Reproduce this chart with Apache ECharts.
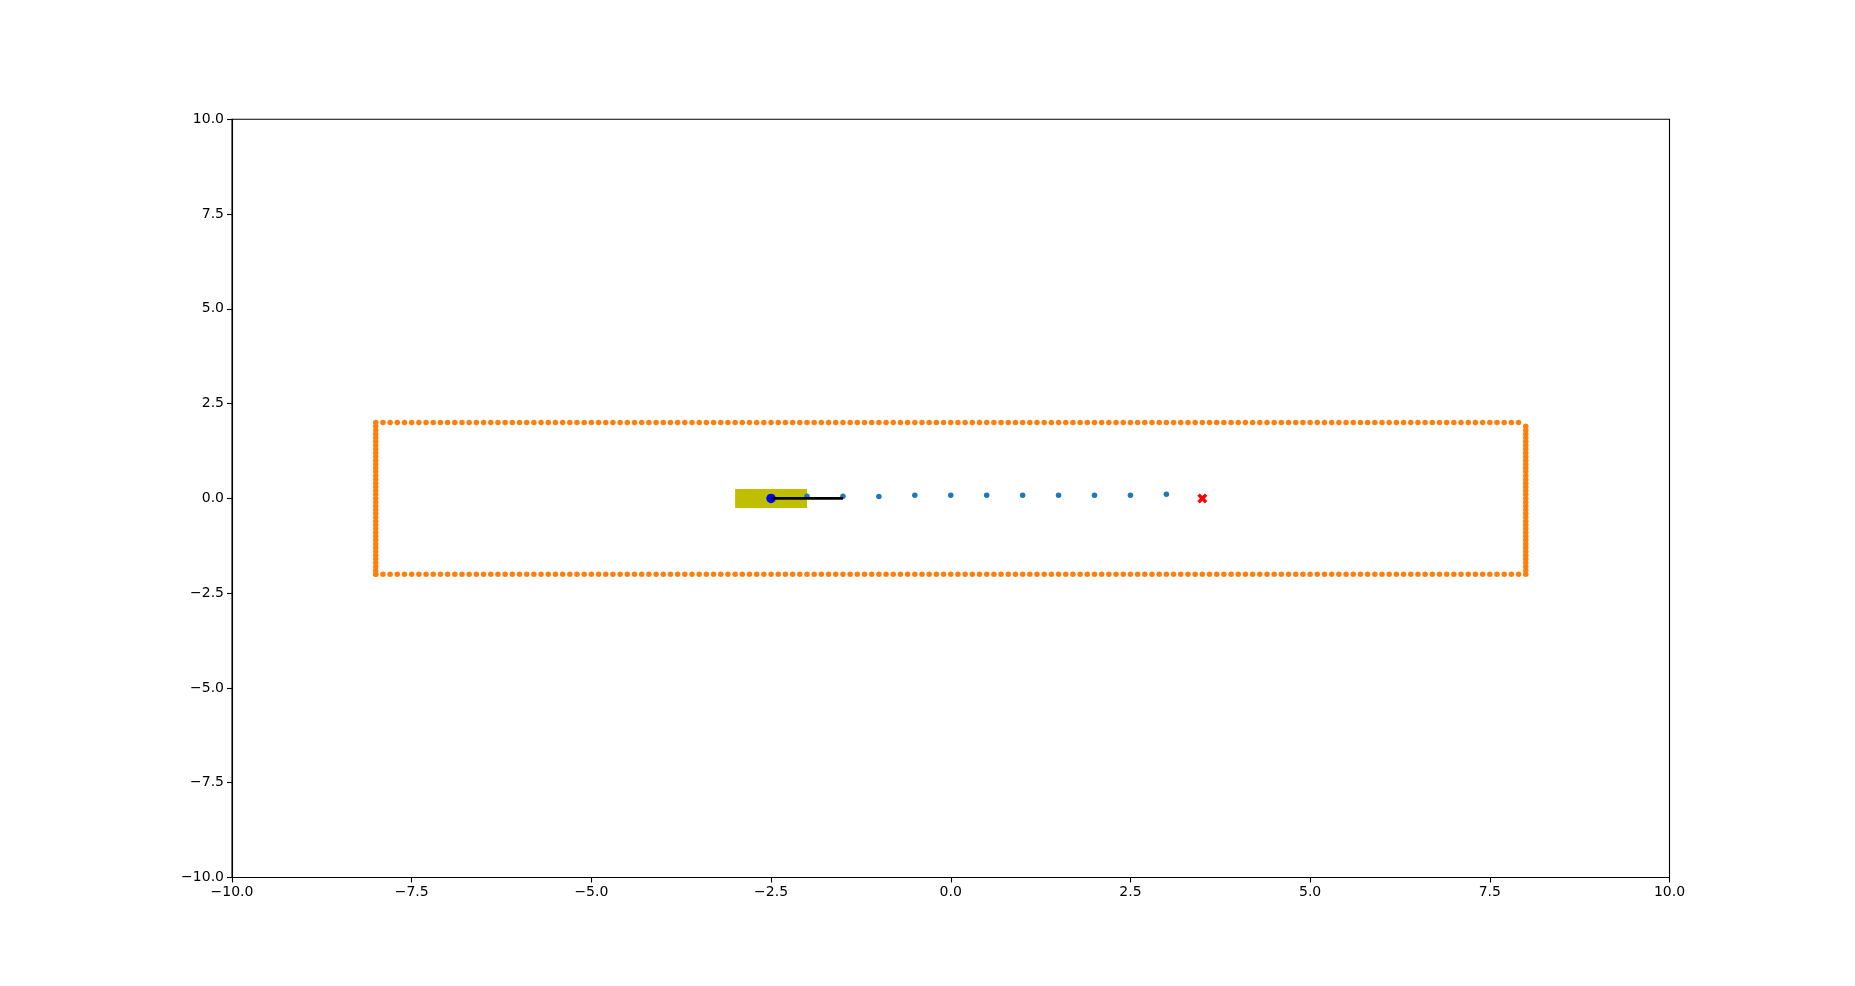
<!DOCTYPE html>
<html>
<head>
<meta charset="utf-8">
<script src="https://cdn.jsdelivr.net/npm/echarts@6/dist/echarts.min.js"></script>
<style>
html,body{margin:0;padding:0;background:#fff;}
#chart{width:1855px;height:986px;}
</style>
</head>
<body>
<div id="chart"></div>
<script>
// ---- data ----
var axisTicks = [-10, -7.5, -5, -2.5, 0, 2.5, 5, 7.5, 10];

// corridor walls (orange points)
var wallRowX = [
  -8.0,-7.9,-7.8,-7.7,-7.6,-7.5,-7.4,-7.3,-7.2,-7.1,
  -7.0,-6.9,-6.8,-6.7,-6.6,-6.5,-6.4,-6.3,-6.2,-6.1,
  -6.0,-5.9,-5.8,-5.7,-5.6,-5.5,-5.4,-5.3,-5.2,-5.1,
  -5.0,-4.9,-4.8,-4.7,-4.6,-4.5,-4.4,-4.3,-4.2,-4.1,
  -4.0,-3.9,-3.8,-3.7,-3.6,-3.5,-3.4,-3.3,-3.2,-3.1,
  -3.0,-2.9,-2.8,-2.7,-2.6,-2.5,-2.4,-2.3,-2.2,-2.1,
  -2.0,-1.9,-1.8,-1.7,-1.6,-1.5,-1.4,-1.3,-1.2,-1.1,
  -1.0,-0.9,-0.8,-0.7,-0.6,-0.5,-0.4,-0.3,-0.2,-0.1,
  0.0,0.1,0.2,0.3,0.4,0.5,0.6,0.7,0.8,0.9,
  1.0,1.1,1.2,1.3,1.4,1.5,1.6,1.7,1.8,1.9,
  2.0,2.1,2.2,2.3,2.4,2.5,2.6,2.7,2.8,2.9,
  3.0,3.1,3.2,3.3,3.4,3.5,3.6,3.7,3.8,3.9,
  4.0,4.1,4.2,4.3,4.4,4.5,4.6,4.7,4.8,4.9,
  5.0,5.1,5.2,5.3,5.4,5.5,5.6,5.7,5.8,5.9,
  6.0,6.1,6.2,6.3,6.4,6.5,6.6,6.7,6.8,6.9,
  7.0,7.1,7.2,7.3,7.4,7.5,7.6,7.7,7.8,7.9
];
var wallTopY = 2;
var wallBottomY = -2;
var wallColumnY = [
  -2.0,-1.9,-1.8,-1.7,-1.6,-1.5,-1.4,-1.3,-1.2,-1.1,
  -1.0,-0.9,-0.8,-0.7,-0.6,-0.5,-0.4,-0.3,-0.2,-0.1,
  0.0,0.1,0.2,0.3,0.4,0.5,0.6,0.7,0.8,0.9,
  1.0,1.1,1.2,1.3,1.4,1.5,1.6,1.7,1.8,1.9
];
var wallLeftX = -8;
var wallRightX = 8;

// planned path (blue points)
var pathX = [-2.0, -1.5, -1.0, -0.5, 0.0, 0.5, 1.0, 1.5, 2.0, 2.5, 3.0];
var pathY = [0.06, 0.06, 0.05, 0.08, 0.08, 0.08, 0.08, 0.08, 0.08, 0.08, 0.11];

// vehicle body (rectangle corners), position and heading segment
var bodyMin = [-3.0, -0.25];
var bodyMax = [-2.0, 0.25];
var vehiclePos = [-2.5, 0.0];
var headingEnd = [-1.5, 0.0];

// goal
var goal = [3.5, 0.0];

// ---- build ----
var walls = [];
wallRowX.forEach(function(x){ walls.push([x, wallTopY]); });
wallRowX.forEach(function(x){ walls.push([x, wallBottomY]); });
wallColumnY.forEach(function(y){ walls.push([wallLeftX, y]); });
wallColumnY.forEach(function(y){ walls.push([wallRightX, y]); });
var path = pathX.map(function(x, i){ return [x, pathY[i]]; });

function fmt(v){
  return (v < 0 ? '\u2212' : '') + Math.abs(v).toFixed(1);
}

var axisCommon = {
  type: 'value', min: -10, max: 10, interval: 2.5,
  axisLine: { show: true, onZero: false, lineStyle: { color: '#000', width: 1.1 } },
  axisTick: { show: true, length: 5, lineStyle: { color: '#000', width: 1.1 } },
  splitLine: { show: false },
  axisLabel: { color: '#000', fontFamily: 'DejaVu Sans', fontSize: 14, formatter: fmt, margin: 8 }
};

var chart = echarts.init(document.getElementById('chart'), null, { renderer: 'canvas' });
chart.setOption({
  animation: false,
  backgroundColor: '#fff',
  grid: { left: 232, right: 185.5, top: 119.3, bottom: 108.5, show: true, borderColor: '#000', borderWidth: 1.1, backgroundColor: 'transparent' },
  xAxis: Object.assign({}, axisCommon, { position: 'bottom' }),
  yAxis: Object.assign({}, axisCommon, { position: 'left' }),
  series: [
    {
      type: 'custom', z: 1,
      renderItem: function(params, api){
        var p1 = api.coord([api.value(0), api.value(1)]);
        var p2 = api.coord([api.value(2), api.value(3)]);
        return {
          type: 'rect',
          shape: { x: Math.min(p1[0], p2[0]), y: Math.min(p1[1], p2[1]), width: Math.abs(p2[0]-p1[0]), height: Math.abs(p2[1]-p1[1]) },
          style: { fill: '#bfbf00' }
        };
      },
      data: [[bodyMin[0], bodyMin[1], bodyMax[0], bodyMax[1]]]
    },
    {
      type: 'scatter', z: 2, data: walls, symbol: 'circle', symbolSize: 5.5,
      itemStyle: { color: '#ff7f0e', opacity: 1 }
    },
    {
      type: 'scatter', z: 3, data: path, symbol: 'circle', symbolSize: 5.5,
      itemStyle: { color: '#1f77b4', opacity: 1 }
    },
    {
      type: 'scatter', z: 4, data: [vehiclePos], symbol: 'circle', symbolSize: 9.5,
      itemStyle: { color: '#0000ff', opacity: 1 }
    },
    {
      type: 'line', z: 5, data: [vehiclePos, headingEnd], showSymbol: false, symbol: 'none',
      lineStyle: { color: '#000', width: 2.7, cap: 'butt' }
    },
    {
      type: 'scatter', z: 6, data: [goal],
      symbol: 'path://M0,1.2 L1.2,0 L2.5,1.3 L3.8,0 L5,1.2 L3.7,2.5 L5,3.8 L3.8,5 L2.5,3.7 L1.2,5 L0,3.8 L1.3,2.5 Z',
      symbolSize: 10,
      itemStyle: { color: '#ff0000', opacity: 1 }
    }
  ]
});
</script>
</body>
</html>
